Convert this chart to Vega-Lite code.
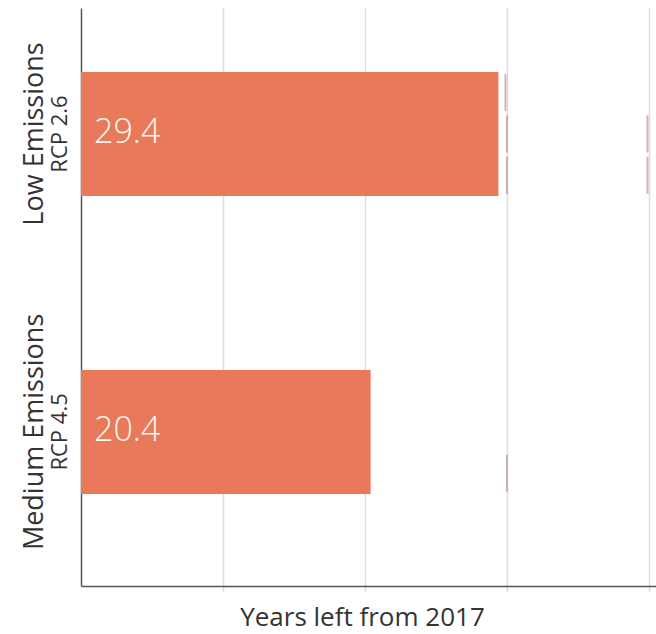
{
  "$schema": "https://vega.github.io/schema/vega-lite/v6.json",
  "width": 575,
  "height": 578,
  "autosize": "none",
  "padding": {"left": 81, "top": 8, "right": 0, "bottom": 48},
  "background": "white",
  "config": {"view": {"stroke": null}, "font": "Open Sans"},
  "datasets": {
    "bars": [
      {"scenario": "Low Emissions", "rcp": "RCP 2.6", "years": 29.4},
      {"scenario": "Medium Emissions", "rcp": "RCP 4.5", "years": 20.4}
    ],
    "ticks": [
      {"scenario": "Low Emissions", "sub": "a", "value": 29.9},
      {"scenario": "Low Emissions", "sub": "b", "value": 30.0},
      {"scenario": "Low Emissions", "sub": "c", "value": 30.0},
      {"scenario": "Low Emissions", "sub": "b", "value": 39.9},
      {"scenario": "Low Emissions", "sub": "c", "value": 39.9},
      {"scenario": "Medium Emissions", "sub": "c", "value": 30.0}
    ]
  },
  "encoding": {
    "y": {
      "field": "scenario",
      "type": "nominal",
      "scale": {"domain": ["Low Emissions", "Medium Emissions"], "paddingInner": 0.584, "paddingOuter": 0.262, "align": 0.41},
      "axis": {
        "title": null,
        "labelAngle": -90,
        "labelFontSize": 27,
        "labelColor": "#333333",
        "labelPadding": 33,
        "labelLimit": 0,
        "ticks": false,
        "domainColor": "#555555",
        "domainWidth": 1.5,
        "grid": false
      }
    }
  },
  "layer": [
    {
      "data": {"name": "bars"},
      "mark": {"type": "bar", "color": "#e8795a"},
      "encoding": {
        "x": {
          "field": "years",
          "type": "quantitative",
          "scale": {"domain": [0, 40.5], "nice": false},
          "axis": {
            "title": "Years left from 2017",
            "titleFontSize": 26,
            "titleFontWeight": "normal",
            "titleColor": "#333333",
            "titlePadding": 12,
            "titleX": 281,
            "values": [10, 20, 30, 40],
            "labels": false,
            "tickColor": "#dddddd",
            "tickSize": 6,
            "tickWidth": 1.5,
            "grid": true,
            "gridColor": "#dddddd",
            "gridWidth": 1.5,
            "domainColor": "#555555",
            "domainWidth": 1.5
          }
        }
      }
    },
    {
      "data": {"name": "ticks"},
      "mark": {"type": "tick", "color": "#bf948e", "thickness": 2, "size": 37},
      "encoding": {
        "x": {"field": "value", "type": "quantitative"},
        "yOffset": {"field": "sub", "type": "nominal", "scale": {"domain": ["a", "b", "c"]}}
      }
    },
    {
      "data": {"name": "bars"},
      "mark": {"type": "text", "align": "left", "baseline": "middle", "fontSize": 34, "fontWeight": 300, "color": "#fff6ee", "xOffset": 13, "yOffset": -1},
      "encoding": {
        "x": {"datum": 0, "type": "quantitative"},
        "text": {"field": "years", "type": "quantitative", "format": ".1f"}
      }
    },
    {
      "data": {"name": "bars"},
      "mark": {"type": "text", "align": "center", "baseline": "middle", "angle": 270, "fontSize": 22, "color": "#333333", "xOffset": -21},
      "encoding": {
        "x": {"datum": 0, "type": "quantitative"},
        "text": {"field": "rcp", "type": "nominal"}
      }
    }
  ]
}
